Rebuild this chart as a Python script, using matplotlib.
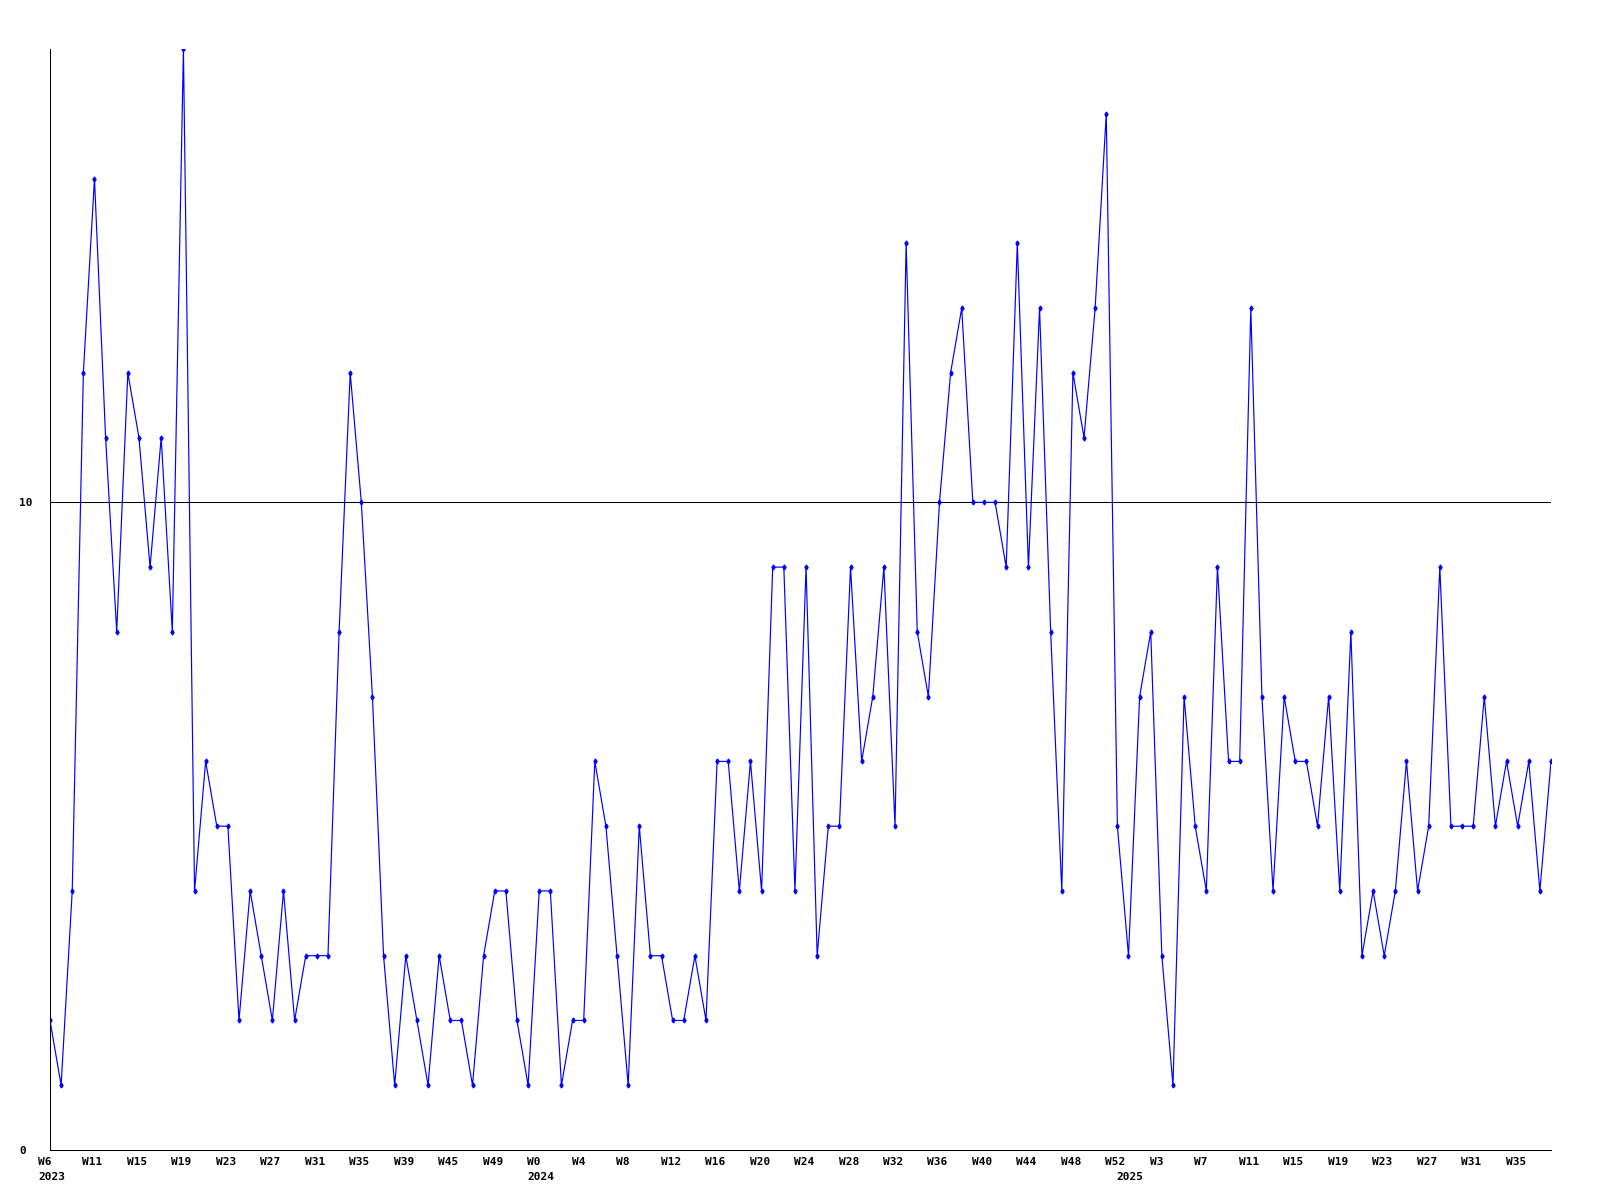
import matplotlib
matplotlib.use("Agg")
import matplotlib.pyplot as plt
from matplotlib.transforms import ScaledTranslation

# weekly counts
values = [2, 1, 4, 12, 15, 11, 8, 12, 11, 9, 11, 8, 17, 4, 6, 5, 5, 2, 4, 3,
          2, 4, 2, 3, 3, 3, 8, 12, 10, 7, 3, 1, 3, 2, 1, 3, 2, 2, 1, 3,
          4, 4, 2, 1, 4, 4, 1, 2, 2, 6, 5, 3, 1, 5, 3, 3, 2, 2, 3, 2,
          6, 6, 4, 6, 4, 9, 9, 4, 9, 3, 5, 5, 9, 6, 7, 9, 5, 14, 8, 7,
          10, 12, 13, 10, 10, 10, 9, 14, 9, 13, 8, 4, 12, 11, 13, 16, 5, 3, 7, 8,
          3, 1, 7, 5, 4, 9, 6, 6, 13, 7, 4, 7, 6, 6, 5, 7, 4, 8, 3, 4,
          3, 4, 6, 4, 5, 9, 5, 5, 5, 7, 5, 6, 5, 6, 4, 6]

week_labels = ['W6', 'W11', 'W15', 'W19', 'W23', 'W27', 'W31', 'W35', 'W39',
               'W45', 'W49', 'W0', 'W4', 'W8', 'W12', 'W16', 'W20', 'W24',
               'W28', 'W32', 'W36', 'W40', 'W44', 'W48', 'W52', 'W3', 'W7',
               'W11', 'W15', 'W19', 'W23', 'W27', 'W31', 'W35']
years = ['2023', '2024', '2025']
year_pos = [0, 44, 97]

x = list(range(len(values)))
font = dict(family='DejaVu Sans Mono', weight='bold', size=8)

fig = plt.figure(figsize=(16, 12), dpi=100)
ax = fig.add_axes([50 / 1600, 1 - 1150 / 1200, 1501 / 1600, 1101 / 1200])

ax.axhline(10, color='black', lw=0.75, zorder=1)
ax.plot(x, values, color='#0000ff', lw=0.85, marker='d', markersize=2.5, zorder=2)

ax.set_xlim(0, len(values) - 1)
ax.set_ylim(0, 17)

for s in ['top', 'right']:
    ax.spines[s].set_visible(False)
for s in ['left', 'bottom']:
    ax.spines[s].set_linewidth(0.75)

ax.set_yticks([0, 10])
ax.set_yticklabels(['0', '10'], **font)
ax.tick_params(axis='y', length=0, pad=22.3)
for lab in ax.get_yticklabels():
    lab.set_horizontalalignment('left')

ax.set_xticks(x[::4])
ax.set_xticklabels(week_labels, **font)
ax.tick_params(axis='x', length=0, pad=5)
shift = ScaledTranslation(-12 / 100, 0, fig.dpi_scale_trans)
for lab in ax.get_xticklabels():
    lab.set_horizontalalignment('left')
    lab.set_transform(lab.get_transform() + shift)

for yr, pos in zip(years, year_pos):
    ax.annotate(yr, xy=(pos, 0), xycoords=('data', 'axes fraction'),
                xytext=(-12, -22), textcoords='offset pixels',
                ha='left', va='top', annotation_clip=False, **font)

fig.savefig('out.png', dpi=100)
